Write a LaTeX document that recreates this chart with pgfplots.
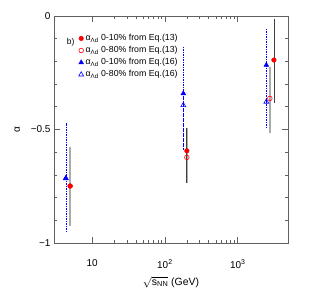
\documentclass[border=0pt]{standalone}
\usepackage{fontspec}
\setmainfont{Liberation Sans}
\usepackage{pgfplots}
\pgfplotsset{compat=1.18}
\begin{document}
\begin{tikzpicture}
\begin{axis}[
  scale only axis, width=234bp, height=227bp,
  xmode=log, xmin=3, xmax=4900, ymin=-1, ymax=0,
  xtick={10,100,1000}, xticklabels={10,10\textsuperscript{2},10\textsuperscript{3}},
  ytick={-1,-0.5,0}, yticklabels={−1,−0.5,0},
  minor ytick={-0.9,-0.8,-0.7,-0.6,-0.4,-0.3,-0.2,-0.1},
  /pgf/number format/assume math mode=true,
  tick align=inside, tick pos=both, ticklabel pos=left,
  major tick length=6bp, minor tick length=3.5bp,
  axis line style={gray!75!black, line width=0.7bp},
  every tick/.style={gray!75!black, line width=0.6bp},
  ticklabel style={font=\fontsize{10}{12}\selectfont},
  xticklabel style={yshift=-13bp},
  xlabel={$\sqrt{\mbox{s\textsubscript{NN}}}$ (GeV)},
  xlabel style={font=\fontsize{10.5}{12}\selectfont, yshift=-2bp},
  ylabel={α}, ylabel style={font=\fontsize{10}{12}\selectfont, yshift=4bp},
  legend image code/.code={\draw[#1] plot coordinates {(0.12cm,0cm)};},
  legend style={draw=none, fill=none, at={(rel axis cs:0.105,0.928)}, anchor=north west,
    font=\fontsize{8.8}{9.5}\selectfont, row sep=0.2bp, inner sep=0pt,
    /tikz/every even column/.append style={column sep=1.5bp}},
  legend cell align=left,
]
\addlegendimage{red, mark=*, mark size=2.3bp, mark options={fill=red, solid}}
\addlegendentry{α\textsubscript{Λd} 0-10\% from Eq.(13)}
\addlegendimage{red, mark=o, mark size=2.3bp, mark options={line width=0.6bp, solid}}
\addlegendentry{α\textsubscript{Λd} 0-80\% from Eq.(13)}
\addlegendimage{blue, mark=triangle*, mark size=2.8bp, mark options={fill=blue, solid}}
\addlegendentry{α\textsubscript{Λd} 0-10\% from Eq.(16)}
\addlegendimage{blue, mark=triangle, mark size=2.8bp, mark options={line width=0.6bp, solid}}
\addlegendentry{α\textsubscript{Λd} 0-80\% from Eq.(16)}

% blue open (0-80%, Eq.16)
\addplot[forget plot, only marks, color=blue, mark=triangle, mark size=2.8bp,
  mark options={line width=0.6bp, solid, fill=white},
  error bars/.cd, y dir=both, y explicit, error mark=none,
  error bar style={color=blue, line width=0.6bp, dash pattern=on 1.5bp off 1bp}]
  coordinates {
  (4.36,-0.715) += (0,0.244) -= (0,0.241)
  (179,-0.393) += (0,0.052) -= (0,0.198)
  (2470,-0.378) += (0,0.162) -= (0,0.117)
  };
% blue filled (0-10%, Eq.16)
\addplot[forget plot, only marks, color=blue, mark=triangle*, mark size=2.8bp,
  mark options={fill=blue, solid},
  error bars/.cd, y dir=both, y explicit, error mark=none,
  error bar style={color=blue, line width=0.6bp, dash pattern=on 1.5bp off 1bp}]
  coordinates {
  (4.36,-0.715) += (0,0.244) -= (0,0.241)
  (179,-0.341) += (0,0.209) -= (0,0.250)
  (2470,-0.216) += (0,0.164) -= (0,0.164)
  };
% red open (0-80%, Eq.13)
\addplot[forget plot, only marks, color=red, mark=o, mark size=2.3bp,
  mark options={line width=0.6bp, solid, fill=white},
  error bars/.cd, y dir=both, y explicit, error mark=none,
  error bar style={color=gray!65, line width=2bp, solid}]
  coordinates {
  (5.0,-0.749) += (0,0.171) -= (0,0.176)
  (200,-0.623) += (0,0.128) -= (0,0.112)
  (2760,-0.363) += (0,0.139) -= (0,0.154)
  };
% red filled (0-10%, Eq.13)
\addplot[forget plot, only marks, color=red, mark=*, mark size=2.3bp,
  mark options={fill=red, solid},
  error bars/.cd, y dir=both, y explicit, error mark=none,
  error bar style={color=black!75, line width=0.7bp, solid}]
  coordinates {
  (5.0,-0.749) += (0,0) -= (0,0)
  (200,-0.594) += (0,0.099) -= (0,0.141)
  (3140,-0.194) += (0,0.18) -= (0,0.191)
  };
\node[font=\fontsize{8.5}{9}\selectfont, anchor=west] at (rel axis cs:0.04,0.885) {b)};
\end{axis}
\pgfresetboundingbox
\path[use as bounding box] ([shift={(-54bp,-62bp)}]current axis.south west) rectangle ([shift={(27bp,16bp)}]current axis.north east);
\end{tikzpicture}
\end{document}
